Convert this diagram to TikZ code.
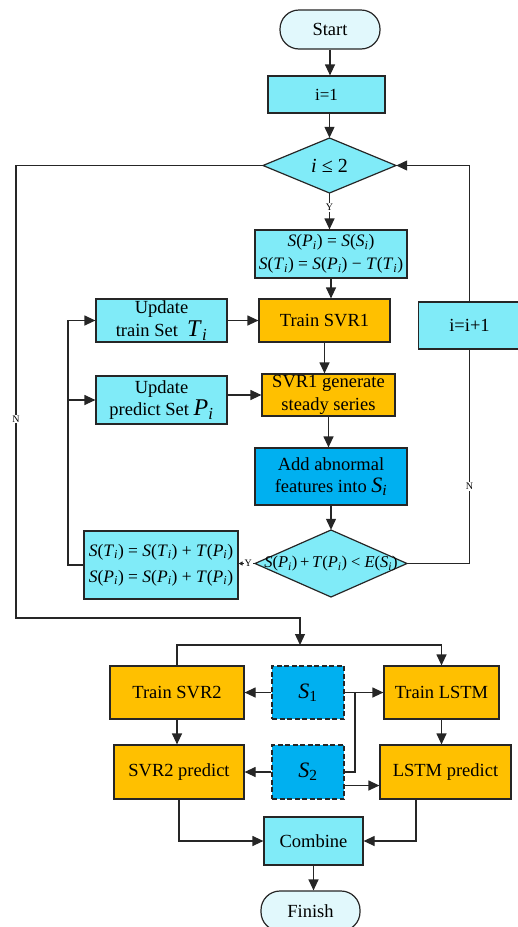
\documentclass[tikz,border=0pt]{standalone}
\usepackage{fontspec}
\setmainfont{Liberation Serif}
\usetikzlibrary{arrows.meta,calc}

\definecolor{boxcyan}{HTML}{80EBF8}
\definecolor{termfill}{HTML}{E1F8FC}
\definecolor{boxorange}{HTML}{FFC000}
\definecolor{boxblue}{HTML}{00B0F0}

% italic function term such as S(P_i)
\newcommand{\fx}[2]{\textit{#1}(\textit{#2}\textsubscript{\textit{i}})}
\newcommand{\bigvar}[2]{{\fontsize{#2}{#2}\selectfont\textit{#1}\textsubscript{\textit{i}}}}

\tikzset{
  base/.style={draw=black!85, line width=1.2pt, inner sep=0pt, align=center,
               font=\fontsize{18.5}{22.5}\selectfont},
  term/.style={base, fill=termfill, rounded corners=19pt},
  proc/.style={base, fill=boxcyan},
  work/.style={base, fill=boxorange},
  feat/.style={base, fill=boxblue},
  dset/.style={base, fill=boxblue, dash pattern=on 5pt off 2.5pt},
  dia/.style={draw=black!85, line width=1.2pt, fill=boxcyan},
  lbl/.style={fill=white, inner sep=1pt, font=\fontsize{10}{10}\selectfont},
  link/.style={line width=1.2pt, draw=black!85},
  arr/.style={link, -{Triangle[length=11pt,width=10pt]}},
  smallarr/.style={link, -{Triangle[length=4pt,width=4pt]}},
}

\begin{document}
\begin{tikzpicture}[x=1pt,y=-1pt]
\useasboundingbox (0,0) rectangle (518,927);

% ---- nodes ----
\node[term, minimum width=100pt, minimum height=39pt] (start) at (330,29.5) {Start};
\node[proc, minimum width=117pt, minimum height=37pt, font=\fontsize{17}{20}\selectfont] (i1) at (326.5,94.5) {i=1};

% decision i <= 2
\path[dia] (263,165.5) -- (329.5,138) -- (396,165.5) -- (329.5,193) -- cycle;
\node[inner sep=0pt, minimum width=133pt, minimum height=55pt] (d1) at (329.5,165.5) {};
\node[font=\fontsize{20}{20}\selectfont] at (d1) {\textit{i} ≤ 2};

\node[proc, minimum width=152pt, minimum height=48pt, font=\fontsize{17.5}{23}\selectfont] (init) at (331,254)
  {\fx{S}{P} = \fx{S}{S}\\ \fx{S}{T} = \fx{S}{P} − \fx{T}{T}};

\node[work, minimum width=131pt, minimum height=43pt] (tsvr1) at (324.5,320.5) {Train SVR1};
\node[proc, minimum width=131pt, minimum height=43pt] (ut) at (161.5,320.5)
  {Update\\ train Set \ \bigvar{T}{24}};
\node[work, minimum width=133pt, minimum height=42pt] (gen) at (328.5,395) {SVR1 generate\\ steady series};
\node[proc, minimum width=131pt, minimum height=48pt] (up) at (161.5,400)
  {Update\\ predict Set \bigvar{P}{24}};
\node[feat, minimum width=152pt, minimum height=57pt] (add) at (331,476.5)
  {Add abnormal\\ features into \bigvar{S}{22}};

% decision on the error
\path[dia] (255,563.5) -- (331,530) -- (407,563.5) -- (331,597) -- cycle;
\node[inner sep=0pt, minimum width=152pt, minimum height=67pt] (d2) at (331,563.5) {};
\node[font=\fontsize{16.5}{16.5}\selectfont] at (d2) {\fx{S}{P}\,+\,\fx{T}{P} < \textit{E}(\textit{S}\textsubscript{\textit{i}})};

\node[proc, minimum width=154pt, minimum height=68pt, font=\fontsize{17.5}{26}\selectfont] (upd) at (161,565)
  {\fx{S}{T} = \fx{S}{T} + \fx{T}{P}\\ \fx{S}{P} = \fx{S}{P} + \fx{T}{P}};

\node[proc, minimum width=102pt, minimum height=47pt] (inc) at (469.5,325.5) {i=i+1};

\node[work, minimum width=134pt, minimum height=53pt] (tsvr2) at (177,692.5) {Train SVR2};
\node[dset, minimum width=72pt, minimum height=53pt, font=\fontsize{22}{22}\selectfont] (s1) at (308,692.5) {\textit{S}\textsubscript{1}};
\node[work, minimum width=115pt, minimum height=53pt] (tlstm) at (441.5,692.5) {Train LSTM};
\node[work, minimum width=130pt, minimum height=54pt] (psvr2) at (179,772) {SVR2 predict};
\node[dset, minimum width=72pt, minimum height=54pt, font=\fontsize{22}{22}\selectfont] (s2) at (308,772) {\textit{S}\textsubscript{2}};
\node[work, minimum width=131pt, minimum height=54pt] (lpred) at (445.5,772) {LSTM predict};
\node[proc, minimum width=99pt, minimum height=48pt] (comb) at (313.5,841) {Combine};
\node[term, minimum width=99pt, minimum height=40pt] (fin) at (310.5,911) {Finish};

% ---- helper points ----
\coordinate (lx) at (68,0);
\coordinate (nbend) at (16,618);
\coordinate (split) at (300,645);
\coordinate (sj) at (355,692.5);
\coordinate (s2low) at ($(s2.east)+(0,13.5)$);
\coordinate (lpin) at ($(lpred.south)+(-29.5,0)$);

% ---- main flow ----
\draw[arr] (start.south) -- (start.south |- i1.north);
\draw[arr] (d1.north |- i1.south) -- (d1.north);
\draw[arr] (d1.south) -- node[lbl, pos=0.4]{Y} (d1.south |- init.north);
\draw[arr] (init.south) -- (init.south |- tsvr1.north);
\draw[arr] (tsvr1.south) -- (tsvr1.south |- gen.north);
\draw[arr] (gen.south) -- (gen.south |- add.north);
\draw[arr] (add.south) -- (d2.north);
\draw[arr] (ut.east) -- (tsvr1.west);
\draw[arr] (gen.west -| up.east) -- (gen.west);

% loop back through the update box
\draw[smallarr] (d2.west) -- node[lbl, pos=0.4]{Y} (d2.west -| upd.east);
\draw[arr] (upd.west) -- (upd.west -| lx) |- (ut.west);
\draw[arr] (up.west -| lx) -- (up.west);

% next i
\draw[link] (d2.east) -| node[lbl, pos=0.68]{N} (inc.south);
\draw[arr] (inc.north) |- (d1.east);

% leave the loop
\draw[arr] (d1.west) -| node[lbl, pos=0.78]{N} (nbend) -| (split);
\draw[arr] (tsvr2.north) |- (tlstm.north |- split) -- (tlstm.north);

% second stage
\draw[arr] (s1.west) -- (tsvr2.east);
\draw[arr] (s1.east) -- (tlstm.west);
\draw[link] (s2.east) -| (sj);
\draw[arr] (s2low) -- (s2low -| lpred.west);
\draw[arr] (s2.west) -- (psvr2.east);
\draw[arr] (tsvr2.south) -- (tsvr2.south |- psvr2.north);
\draw[arr] (tlstm.south) -- (tlstm.south |- lpred.north);
\draw[arr] (psvr2.south) |- (comb.west);
\draw[arr] (lpin) |- (comb.east);
\draw[arr] (comb.south) -- (comb.south |- fin.north);
\end{tikzpicture}
\end{document}
